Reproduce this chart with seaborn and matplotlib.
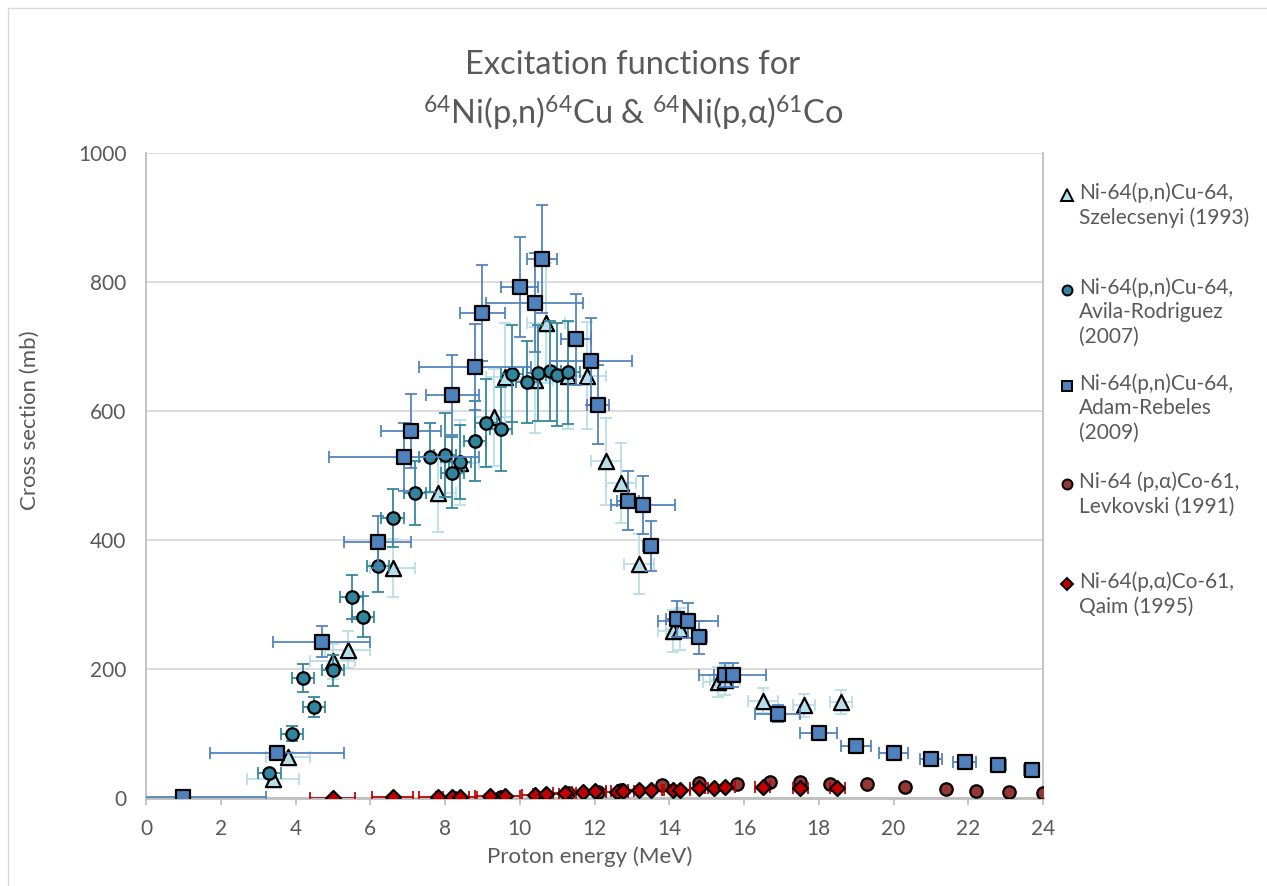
import numpy as np
import pandas as pd
import matplotlib
matplotlib.use('Agg')
import matplotlib.pyplot as plt
import seaborn as sns
from matplotlib.lines import Line2D
from matplotlib.patches import Rectangle

# Ni-64(p,n)Cu-64, Szelecsenyi (1993)
sz_e = [3.4, 3.8, 5.0, 5.4, 6.6, 7.8, 8.4, 9.3, 9.6, 10.4, 10.7, 11.3, 11.8, 12.3, 12.7, 13.2, 14.1, 14.3, 15.3, 15.5, 16.5, 17.6, 18.6]
sz_cs = [30, 63, 212, 230, 357, 473, 520, 590, 653, 648, 737, 655, 655, 522, 488, 363, 259, 262, 180, 183, 151, 144, 149]
sz_de = [0.7, 0.6, 0.6, 0.6, 0.6, 0.5, 0.5, 0.5, 0.5, 0.5, 0.5, 0.5, 0.5, 0.4, 0.4, 0.4, 0.4, 0.4, 0.4, 0.4, 0.4, 0.3, 0.3]
sz_dcs = [4, 8, 27, 29, 45, 60, 66, 75, 83, 82, 93, 83, 83, 67, 62, 46, 33, 33, 23, 23, 19, 18, 19]

# Ni-64(p,n)Cu-64, Avila-Rodriguez (2007)
av_e = [3.3, 3.9, 4.2, 4.5, 5.0, 5.5, 5.8, 6.2, 6.6, 7.2, 7.6, 8.0, 8.2, 8.4, 8.8, 9.1, 9.5, 9.8, 10.2, 10.5, 10.8, 11.0, 11.3]
av_cs = [38, 100, 186, 141, 198, 311, 281, 360, 434, 473, 528, 532, 504, 521, 554, 581, 572, 658, 645, 659, 662, 656, 660]
av_de = [0.3] * 23
av_dcs = [5, 12, 22, 16, 24, 34, 32, 40, 45, 50, 53, 65, 55, 57, 62, 68, 65, 75, 64, 74, 78, 80, 80]

# Ni-64(p,n)Cu-64, Adam-Rebeles (2009)
ad_e = [1.0, 3.5, 4.7, 6.2, 6.9, 7.1, 8.2, 8.8, 9.0, 10.0, 10.4, 10.6, 11.5, 11.9, 12.1, 12.9, 13.3, 13.5, 14.2, 14.5, 14.8, 15.5, 15.7, 16.9, 18.0, 19.0, 20.0, 21.0, 21.9, 22.8, 23.7]
ad_cs = [2, 69, 242, 397, 529, 569, 625, 668, 752, 792, 768, 836, 711, 677, 610, 461, 454, 391, 277, 275, 249, 191, 191, 131, 101, 81, 70, 60, 56, 51, 43]
ad_de = [2.2, 1.8, 1.3, 0.9, 2.0, 0.8, 0.7, 1.5, 0.6, 0.5, 1.3, 0.4, 0.4, 1.1, 0.3, 0.3, 0.85, 0.2, 0.3, 0.8, 0.2, 0.3, 0.9, 0.6, 0.5, 0.4, 0.4, 0.3, 0.3, 0.2, 0.2]
ad_dcs = [0, 7, 24, 40, 53, 57, 62, 67, 75, 78, 77, 84, 70, 67, 61, 46, 45, 39, 28, 27, 25, 19, 19, 13, 10, 8, 7, 6, 6, 5, 4]

# Ni-64(p,alpha)Co-61, Levkovski (1991)
lv_e = [9.5, 11.3, 12.1, 12.7, 13.8, 14.8, 15.8, 16.7, 17.5, 18.3, 19.3, 20.3, 21.4, 22.2, 23.1, 24.0]
lv_cs = [1, 8, 10, 12, 20, 23, 22, 25, 25, 22, 22, 17, 14, 11, 10, 7]

# Ni-64(p,alpha)Co-61, Qaim (1995)
qa_e = [5.0, 6.6, 7.8, 8.2, 8.4, 9.2, 9.6, 10.4, 10.7, 11.2, 11.7, 12.0, 12.6, 12.75, 13.2, 13.5, 14.1, 14.3, 14.8, 15.2, 15.5, 16.5, 17.5, 18.5]
qa_cs = [0, 1, 1, 2, 2, 3, 3, 5, 6, 8, 10, 11, 10, 11, 12, 13, 13, 13, 15, 15, 17, 17, 15, 15]
qa_de = [0.6, 0.55, 0.5, 0.45, 0.45, 0.4, 0.4, 0.35, 0.35, 0.3, 0.3, 0.3, 0.3, 0.3, 0.3, 0.3, 0.25, 0.25, 0.25, 0.25, 0.25, 0.2, 0.2, 0.2]
qa_dcs = [0, 0, 0, 0, 0, 1, 1, 1, 1, 1, 1, 1, 1, 1, 1, 1, 1, 1, 2, 2, 2, 2, 2, 2]

labels = ['Ni-64(p,n)Cu-64,\nSzelecsenyi (1993)',
          'Ni-64(p,n)Cu-64,\nAvila-Rodriguez\n(2007)',
          'Ni-64(p,n)Cu-64,\nAdam-Rebeles\n(2009)',
          'Ni-64 (p,\u03b1)Co-61,\nLevkovski (1991)',
          'Ni-64(p,\u03b1)Co-61,\nQaim (1995)']

sns.set_style('white')
plt.rcParams['font.family'] = ['Lato', 'DejaVu Sans']
plt.rcParams['mathtext.fontset'] = 'custom'
plt.rcParams['mathtext.rm'] = 'Lato'
plt.rcParams['mathtext.it'] = 'Lato:italic'

gray = '#595959'
W, H = 1267, 886
fig = plt.figure(figsize=(W / 100, H / 100), dpi=100)
ax = fig.add_axes([146 / W, 1 - 798 / H, (1043 - 146) / W, (798 - 153) / H])

# series: (x, y, xerr, yerr, marker, size, face, errcolor)
series = [
    (sz_e, sz_cs, sz_de, sz_dcs, '^', 120, '#B7DEE8', '#B7DEE8'),
    (av_e, av_cs, av_de, av_dcs, 'o', 80, '#31859C', '#31859C'),
    (ad_e, ad_cs, ad_de, ad_dcs, 's', 90, '#4F81BD', '#4F81BD'),
    (lv_e, lv_cs, None, None, 'o', 80, '#953735', None),
    (qa_e, qa_cs, qa_de, qa_dcs, 'D', 58, '#C00000', '#C00000'),
]

z = 3
for x, y, dx, dy, m, s, face, ecol in series:
    if ecol is not None:
        ax.errorbar(x, y, xerr=dx, yerr=dy, fmt='none', ecolor=ecol,
                    elinewidth=1.4, capsize=4, capthick=1.4, alpha=0.9, zorder=z)
    df = pd.DataFrame({'E': x, 'cs': y})
    sns.scatterplot(data=df, x='E', y='cs', marker=m, s=s, color=face,
                    edgecolor='black', linewidth=1.6, ax=ax, zorder=z + 1, legend=False)
    z += 2

ax.set_xlim(0, 24)
ax.set_ylim(0, 1000)
ax.set_xticks(np.arange(0, 25, 2))
ax.set_yticks(np.arange(0, 1001, 200))
ax.yaxis.grid(True, color='#D9D9D9', linewidth=1.3)
ax.set_axisbelow(True)
for sp in ['left', 'right']:
    ax.spines[sp].set_color('#BFBFBF')
    ax.spines[sp].set_linewidth(1.3)
ax.spines['top'].set_visible(False)
ax.spines['bottom'].set_color('#BFBFBF')
ax.spines['bottom'].set_linewidth(2)
ax.tick_params(axis='x', length=5, width=1.3, color='#BFBFBF', labelsize=15,
               labelcolor=gray, pad=10, direction='out', bottom=True)
ax.tick_params(axis='y', length=0, labelsize=15, labelcolor=gray, pad=14)
ax.set_xlabel('Proton energy (MeV)', fontsize=16, color=gray)
ax.set_ylabel('Cross section (mb)', fontsize=16, color=gray)
ax.xaxis.set_label_coords(0.495, -0.075)
ax.yaxis.set_label_coords(-0.118, 0.585)

fig.text(633 / W, 1 - 65 / H, 'Excitation functions for', ha='center', va='center',
         fontsize=23.5, color=gray)
fig.text(633 / W, 1 - 113 / H,
         '$^{64}$Ni(p,n)$^{64}$Cu & $^{64}$Ni(p,\u03b1)$^{61}$Co',
         ha='center', va='center', fontsize=23.5, color=gray)

# legend drawn by hand, one slot per series
leg_y = [195, 290, 386, 484, 584]
for (x, y, dx, dy, m, s, face, ecol), lab, ly in zip(series, labels, leg_y):
    fig.add_artist(Line2D([1067 / W], [1 - ly / H], marker=m, markersize=np.sqrt(s) * 0.8,
                          markerfacecolor=face, markeredgecolor='black', markeredgewidth=1.4,
                          linestyle='none', transform=fig.transFigure))
    fig.text(1079 / W, 1 - (ly - 13) / H, lab, ha='left', va='top', fontsize=15,
             color=gray, linespacing=1.3)

fig.add_artist(Rectangle((8 / W, -0.05), 1.1, 1 - 8 / H + 0.05, transform=fig.transFigure,
                         fill=False, edgecolor='#D9D9D9', linewidth=1))

fig.savefig('out.png', dpi=100)
